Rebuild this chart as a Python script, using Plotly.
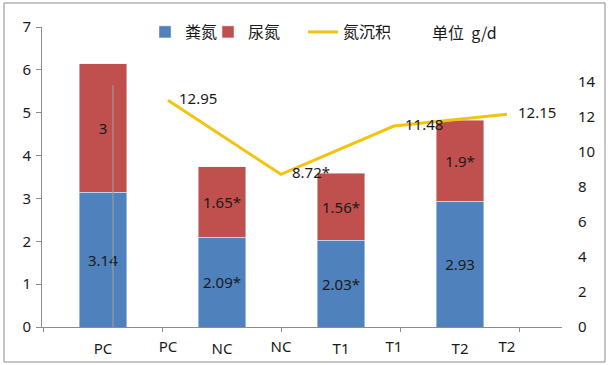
import plotly.graph_objects as go

bar_categories = ["PC", "NC", "T1", "T2"]
line_categories = ["PC", "NC", "T1", "T2"]
fecal_n = [3.14, 2.09, 2.03, 2.93]
fecal_labels = ["3.14", "2.09*", "2.03*", "2.93"]
urine_n = [3, 1.65, 1.56, 1.9]
urine_labels = ["3", "1.65*", "1.56*", "1.9*"]
n_deposition = [12.95, 8.72, 11.48, 12.15]
deposition_labels = ["12.95", "8.72*", "11.48", "12.15"]
left_ticks = [0, 1, 2, 3, 4, 5, 6, 7]
right_ticks = [0, 2, 4, 6, 8, 10, 12, 14]

W, H = 612, 365
L, R, T, B = 42, 562, 27, 327
def px(x):
    return (x - L) / (R - L)
def py(y):
    return (B - y) / (B - T)

FONT = "Noto Sans, Noto Sans CJK SC, sans-serif"
CJK = "Noto Sans CJK SC"
lab_font = dict(family=FONT, size=15, color="#1a1a1a")
GRAY = "#8c8c8c"

fig = go.Figure()
fig.add_trace(go.Bar(
    x=bar_categories, y=fecal_n, name="粪氮", marker_color="#4F81BD",
    text=fecal_labels, textposition="inside", insidetextanchor="middle",
    textfont=lab_font, width=0.4, xaxis="x", yaxis="y", textangle=0,
    legend="legend",
))
fig.add_trace(go.Bar(
    x=bar_categories, y=urine_n, name="尿氮", marker_color="#C0504D",
    text=urine_labels, textposition="inside", insidetextanchor="middle",
    textfont=lab_font, width=0.4, xaxis="x", yaxis="y", textangle=0,
    legend="legend3",
))
fig.add_trace(go.Scatter(
    x=line_categories, y=n_deposition, name="氮沉积", mode="lines+markers+text",
    line=dict(color="#F2C40F", width=3),
    marker=dict(size=16, color="rgba(0,0,0,0)", line=dict(width=0)),
    text=deposition_labels, textposition="middle right",
    textfont=lab_font, xaxis="x2", yaxis="y2", legend="legend2",
))

legend_common = dict(orientation="h", yanchor="middle", xanchor="left",
                     font=dict(family=CJK, size=16, color="#1a1a1a"),
                     itemwidth=30, tracegroupgap=0, bgcolor="rgba(0,0,0,0)",
                     borderwidth=0)

fig.update_layout(
    width=W, height=H,
    margin=dict(l=L, r=W - R, t=T, b=H - B, autoexpand=False),
    barmode="stack",
    plot_bgcolor="white", paper_bgcolor="white",
    font=dict(family=FONT, size=15, color="#1a1a1a"),
    showlegend=True,
    legend=dict(x=px(145), y=py(32), **legend_common),
    legend3=dict(x=px(208), y=py(32), **legend_common),
    legend2=dict(x=px(303), y=py(32), **legend_common),
    xaxis=dict(type="category", range=[-0.513, 3.857], showline=True, linecolor=GRAY,
               linewidth=1, ticks="outside", tickson="boundaries", ticklen=4,
               tickcolor=GRAY, showgrid=False, tickfont=lab_font,
               ticklabelstandoff=8, domain=[0, 1], automargin=False),
    xaxis2=dict(type="category", range=[-1.115, 3.487], overlaying="x", anchor="y2",
                side="bottom", showline=False, ticks="", showgrid=False,
                tickfont=lab_font, ticklabelstandoff=9, automargin=False),
    yaxis=dict(range=[0, 7], tickvals=left_ticks, showline=True, linecolor=GRAY,
               linewidth=1, ticks="outside", ticklen=5, tickcolor=GRAY,
               showgrid=False, zeroline=False, tickfont=lab_font,
               ticklabelstandoff=2, automargin=False),
    yaxis2=dict(range=[0, 17.14], tickvals=right_ticks, overlaying="y", side="right",
                showline=False, ticks="", showgrid=False, zeroline=False,
                tickfont=lab_font, ticklabelstandoff=15, automargin=False),
    shapes=[
        dict(type="rect", xref="paper", yref="paper", x0=px(4), x1=px(605), y0=py(362), y1=py(3),
             line=dict(color=GRAY, width=1), fillcolor="rgba(0,0,0,0)", layer="below"),
        dict(type="line", xref="paper", yref="paper", x0=px(113), x1=px(113), y0=0, y1=py(85),
             line=dict(color="#a0a0a0", width=1), layer="above"),
    ],
    annotations=[
        dict(text="单位  g/d", xref="paper", yref="paper", x=px(430), y=py(32),
             xanchor="left", yanchor="middle", showarrow=False,
             font=dict(family=CJK, size=16, color="#1a1a1a")),
    ],
)

fig.write_html("out.html", config={"displayModeBar": False},
               post_script="document.body.style.margin='0';")
